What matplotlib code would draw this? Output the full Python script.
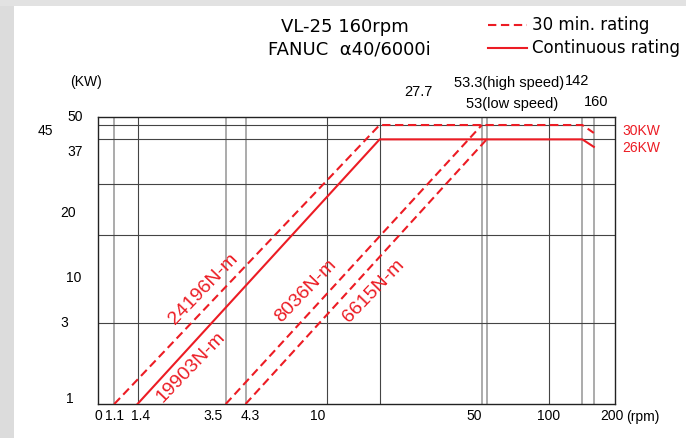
import matplotlib
matplotlib.use('Agg')
import matplotlib.pyplot as plt
from matplotlib.lines import Line2D
from matplotlib.patches import Rectangle

# spindle power curve (rpm positions as drawn)
rpm_30min_a = [1.1, 17.3, 142, 160]
kw_30min_a = [1, 45, 45, 40.4]
rpm_cont = [1.4, 17.3, 142, 160]
kw_cont = [1, 37, 37, 33.4]
rpm_30min_b = [3.5, 50]
kw_30min_b = [1, 45]
rpm_30min_c = [4.3, 52.6]
kw_30min_c = [1, 37]

rpm_grid_dark = [1.4, 10, 17.3, 100]
rpm_grid_light = [1.1, 3.5, 4.3, 50, 52.6, 142, 160]
kw_grid = [3, 10, 20, 37, 45]

xtick_labels = ['0', '1.1', '1.4', '3.5', '4.3', '10', '50', '100', '200']
ytick_labels = ['50', '45', '37', '20', '10', '3', '1']
torque_labels = ['24196N-m', '19903N-m', '8036N-m', '6615N-m']
top_labels = ['27.7', '53.3(high speed)', '53(low speed)', '142', '160']

RED = '#ec1c24'

fig = plt.figure(figsize=(6.86, 4.38), dpi=100)
fig.add_artist(Rectangle((0, 0), 14 / 686, 1, transform=fig.transFigure,
                         color='#dcdcdc', lw=0, zorder=0))
fig.add_artist(Rectangle((0, 1 - 6 / 438), 1, 6 / 438, transform=fig.transFigure,
                         color='#e2e2e2', lw=0, zorder=0))
ax = fig.add_axes([98.3 / 686, 34 / 438, 517 / 686, 286.7 / 438])
ax.set_xscale('log')
ax.set_yscale('log')
ax.set_xlim(0.9316, 200)
ax.set_ylim(1, 50)

for x in rpm_grid_dark:
    ax.axvline(x, color='#444444', lw=0.8, zorder=1)
for x in rpm_grid_light:
    ax.axvline(x, color='#a5a5a5', lw=1.3, zorder=1)
for y in kw_grid:
    ax.axhline(y, color='#444444', lw=0.8, zorder=1)

dash = (0, (4, 2.2))
ax.plot(rpm_30min_a, kw_30min_a, color=RED, lw=1.5, ls=dash, zorder=3)
ax.plot(rpm_cont, kw_cont, color=RED, lw=1.5, zorder=3)
ax.plot(rpm_30min_b, kw_30min_b, color=RED, lw=1.5, ls=dash, zorder=3)
ax.plot(rpm_30min_c, kw_30min_c, color=RED, lw=1.5, ls=dash, zorder=3)

for s in ax.spines.values():
    s.set_color('#222222')
    s.set_linewidth(1.0)

ax.tick_params(which='both', length=0)
ax.set_xticks([0.9316, 1.1, 1.45, 3.07, 4.5, 9.08, 46.1, 100, 193.4], xtick_labels,
              fontsize=10, family='Liberation Sans')
ax.minorticks_off()
ax.set_yticks([])
ax.set_yticks([], minor=True)
ax.text(1.02, -0.046, '(rpm)', transform=ax.transAxes, ha='left', va='center',
        fontsize=10, family='Liberation Sans')

# y labels sit a bit off their grid lines, like the original
ylab_pos = [50, 41.3, 31.2, 13.6, 5.6, 3, 1.07]
ylab_x = [-0.045, -0.102, -0.0456, -0.0586, -0.047, -0.0663, -0.0547]
for lab, y, x in zip(ytick_labels, ylab_pos, ylab_x):
    ax.text(x, y, lab, transform=ax.get_yaxis_transform(), ha='center', va='center',
            fontsize=10, family='Liberation Sans')
ax.text(-0.024, 1.124, '(KW)', transform=ax.transAxes, ha='center', va='center',
        fontsize=10, family='Liberation Sans')

top_x = [25.8, 66.4, 68.8, 135, 163.7]
top_y = [1.089, 1.121, 1.046, 1.128, 1.054]
for lab, x, y in zip(top_labels, top_x, top_y):
    ax.text(x, y, lab, transform=ax.get_xaxis_transform(), ha='center', va='center',
            fontsize=10.5, family='Liberation Sans')

ax.text(1.051, 41.3, '30KW', transform=ax.get_yaxis_transform(), ha='center',
        va='center', color=RED, fontsize=10, family='Liberation Sans')
ax.text(1.051, 32.9, '26KW', transform=ax.get_yaxis_transform(), ha='center',
        va='center', color=RED, fontsize=10, family='Liberation Sans')

tq_x = [2.79, 2.44, 8.06, 16.2]
tq_y = [4.81, 1.66, 4.68, 4.68]
for lab, x, y in zip(torque_labels, tq_x, tq_y):
    ax.text(x, y, lab, ha='center', va='center', rotation=46, rotation_mode='anchor',
            color=RED, fontsize=14, family='Liberation Sans')

# title block and legend
fig.text(345 / 686, 1 - 26.7 / 438, 'VL-25 160rpm', ha='center', va='center',
         fontsize=13, family='DejaVu Sans')
fig.text(349 / 686, 1 - 49 / 438, 'FANUC  \u03b140/6000i', ha='center', va='center',
         fontsize=13, family='DejaVu Sans')
fig.add_artist(Line2D([488 / 686, 527 / 686], [1 - 25 / 438, 1 - 25 / 438],
                      transform=fig.transFigure, color=RED, lw=1.5, ls=dash))
fig.add_artist(Line2D([488 / 686, 527 / 686], [1 - 48.3 / 438, 1 - 48.3 / 438],
                      transform=fig.transFigure, color=RED, lw=1.5))
fig.text(531.7 / 686, 1 - 25 / 438, '30 min. rating', ha='left', va='center',
         fontsize=12, family='DejaVu Sans')
fig.text(531.7 / 686, 1 - 48.3 / 438, 'Continuous rating', ha='left', va='center',
         fontsize=12, family='DejaVu Sans')

fig.savefig('out.png', dpi=100)
